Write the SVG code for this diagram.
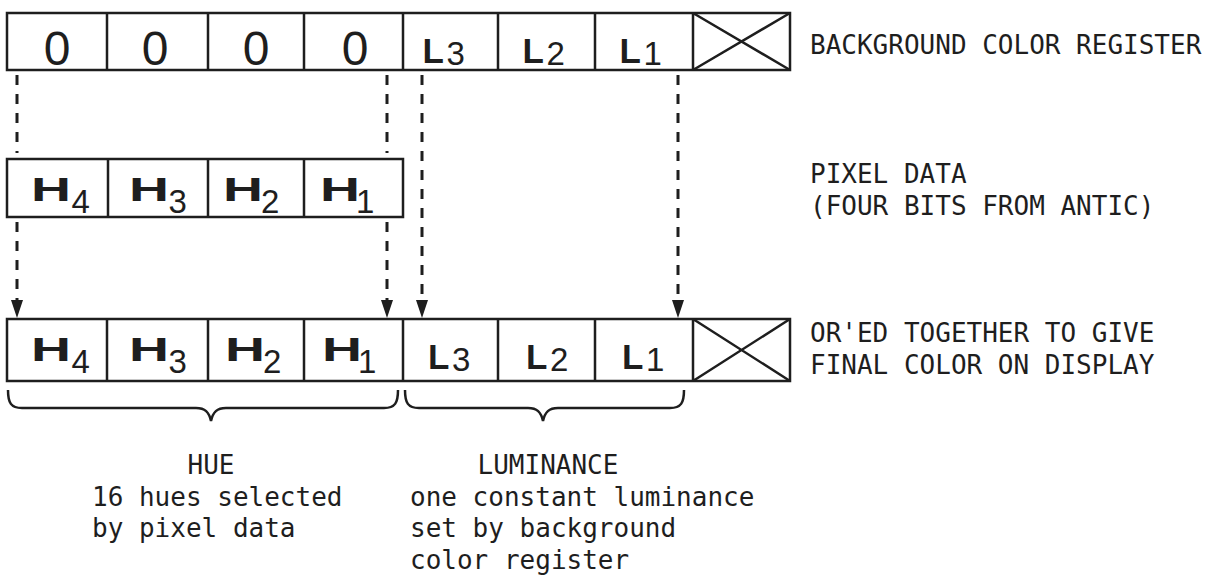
<svg xmlns="http://www.w3.org/2000/svg" width="1216" height="577" viewBox="0 0 1216 577">
<style>
.box{fill:#fff;stroke:#1e1e1e;stroke-width:2.5}
.ln{stroke:#1e1e1e;stroke-width:2.5;fill:none}
.dash{stroke:#1e1e1e;stroke-width:3;stroke-dasharray:10 9;fill:none}
.brace{stroke:#1e1e1e;stroke-width:2.5;fill:none}
.lbl{font-family:"DejaVu Sans Mono","Liberation Mono",monospace;font-size:26px;fill:#1e1e1e}
.zero{font-family:"Liberation Sans",Arial,sans-serif;font-size:48px;fill:#1e1e1e;text-anchor:middle}
.b{font-family:"Liberation Sans",Arial,sans-serif;font-weight:bold;font-size:35px;fill:#1e1e1e}
.h{font-family:"Liberation Sans",Arial,sans-serif;font-weight:bold;font-size:33px;fill:#1e1e1e}
.s{font-family:"Liberation Sans",Arial,sans-serif;font-size:33px;fill:#1e1e1e}
</style>
<defs>
<marker id="ah" viewBox="0 0 18 12" refX="0" refY="6" markerWidth="18" markerHeight="12" markerUnits="userSpaceOnUse" orient="auto">
<path d="M0,0 L18,6 L0,12 Z" fill="#1e1e1e"/>
</marker>
</defs>
<rect width="1216" height="577" fill="#fff"/>

<g id="background-register">
<rect class="box" x="7" y="13" width="783" height="57"/>
<path class="ln" d="M107,13V70M208,13V70M304,13V70M403,13V70M498,13V70M595,13V70M693,13V70M693,13L790,70M693,70L790,13"/>
<text class="zero" x="57" y="65">0</text>
<text class="zero" x="155" y="65">0</text>
<text class="zero" x="256" y="65">0</text>
<text class="zero" x="355" y="65">0</text>
<text class="b" x="422.5" y="63">L</text><text class="s" x="446.5" y="65">3</text>
<text class="b" x="522.5" y="63">L</text><text class="s" x="546.5" y="65">2</text>
<text class="b" x="619.5" y="63">L</text><text class="s" x="643.5" y="65">1</text>
<text class="lbl" x="810" y="54">BACKGROUND COLOR REGISTER</text>
</g>

<g id="pixel-data">
<rect class="box" x="7" y="159" width="396" height="58"/>
<path class="ln" d="M108,159V217M208,159V217M304,159V217"/>
<text class="h" x="31" y="201" textLength="40" lengthAdjust="spacingAndGlyphs">H</text><text class="s" x="71.5" y="213">4</text>
<text class="h" x="129" y="201" textLength="40" lengthAdjust="spacingAndGlyphs">H</text><text class="s" x="168.6" y="213">3</text>
<text class="h" x="223" y="201" textLength="40" lengthAdjust="spacingAndGlyphs">H</text><text class="s" x="261" y="213">2</text>
<text class="h" x="320" y="201" textLength="40" lengthAdjust="spacingAndGlyphs">H</text><text class="s" x="356" y="213">1</text>
<text class="lbl" x="810" y="183">PIXEL DATA</text>
<text class="lbl" x="810" y="215">(FOUR BITS FROM ANTIC)</text>
</g>

<g id="final-color">
<rect class="box" x="7" y="319" width="783" height="62"/>
<path class="ln" d="M107,319V381M208,319V381M304,319V381M403,319V381M498,319V381M595,319V381M693,319V381M693,319L790,381M693,381L790,319"/>
<text class="h" x="31" y="361" textLength="40" lengthAdjust="spacingAndGlyphs">H</text><text class="s" x="71.5" y="373">4</text>
<text class="h" x="129" y="361" textLength="40" lengthAdjust="spacingAndGlyphs">H</text><text class="s" x="168.6" y="373">3</text>
<text class="h" x="225" y="361" textLength="40" lengthAdjust="spacingAndGlyphs">H</text><text class="s" x="263" y="373">2</text>
<text class="h" x="322" y="361" textLength="40" lengthAdjust="spacingAndGlyphs">H</text><text class="s" x="358" y="373">1</text>
<text class="b" x="428" y="369">L</text><text class="s" x="452" y="371">3</text>
<text class="b" x="526" y="369">L</text><text class="s" x="550" y="371">2</text>
<text class="b" x="622" y="369">L</text><text class="s" x="646" y="371">1</text>
<text class="lbl" x="810" y="342">OR'ED TOGETHER TO GIVE</text>
<text class="lbl" x="810" y="374">FINAL COLOR ON DISPLAY</text>
</g>

<g id="hue">
<path class="brace" d="M8,390 C8,403 11,408 22,408 L196,408 C205,408 209,412 211,421 C213,412 217,408 226,408 L384,408 C395,408 398,403 398,390"/>
<text class="lbl" x="211" y="474" text-anchor="middle">HUE</text>
<text class="lbl" x="92" y="506">16 hues selected</text>
<text class="lbl" x="92" y="537">by pixel data</text>
</g>

<g id="luminance">
<path class="brace" d="M405,390 C405,403 408,408 419,408 L528,408 C537,408 541,412 543,421 C545,412 549,408 558,408 L670,408 C681,408 684,403 684,390"/>
<text class="lbl" x="548" y="474" text-anchor="middle">LUMINANCE</text>
<text class="lbl" x="410" y="506">one constant luminance</text>
<text class="lbl" x="410" y="537">set by background</text>
<text class="lbl" x="410" y="569">color register</text>
</g>

<g id="connectors">
<line class="dash" x1="17" y1="75" x2="17" y2="153"/>
<line class="dash" x1="17" y1="222" x2="17" y2="300" marker-end="url(#ah)"/>
<line class="dash" x1="387" y1="75" x2="387" y2="153"/>
<line class="dash" x1="387" y1="222" x2="387" y2="300" marker-end="url(#ah)"/>
<line class="dash" x1="422" y1="75" x2="422" y2="300" marker-end="url(#ah)"/>
<line class="dash" x1="678" y1="75" x2="678" y2="300" marker-end="url(#ah)"/>
</g>
</svg>
